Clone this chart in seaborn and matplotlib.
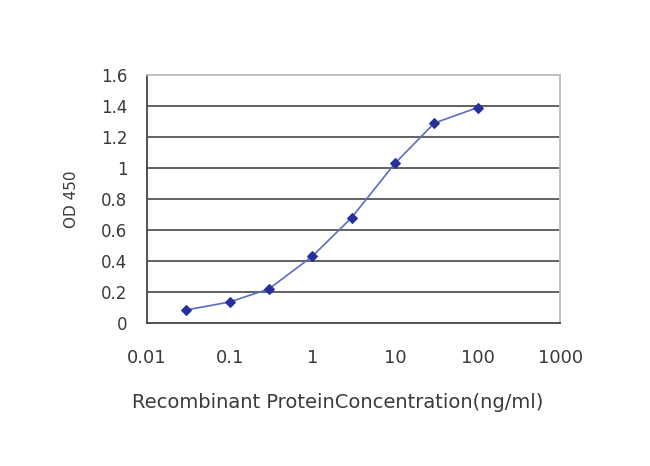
import numpy as np
import pandas as pd
import matplotlib
matplotlib.use('Agg')
import matplotlib.pyplot as plt
import seaborn as sns

# concentration (ng/ml) vs OD 450
concentration = [0.03, 0.1, 0.3, 1, 3, 10, 30, 100]
od450 = [0.084, 0.135, 0.22, 0.43, 0.68, 1.03, 1.29, 1.39]
x_ticks = [0.01, 0.1, 1, 10, 100, 1000]
x_tick_labels = ['0.01', '0.1', '1', '10', '100', '1000']
y_ticks = [0, 0.2, 0.4, 0.6, 0.8, 1.0, 1.2, 1.4, 1.6]
y_tick_labels = ['0', '0.2', '0.4', '0.6', '0.8', '1', '1.2', '1.4', '1.6']

sns.set_style('white')
plt.rcParams['font.family'] = ['DejaVu Sans']

df = pd.DataFrame({'conc': concentration, 'od': od450})

fig = plt.figure(figsize=(6.5, 4.66), dpi=100)
ax = fig.add_axes([0.226, 0.307, 0.636, 0.532])

for yv in y_ticks[1:-1]:
    ax.axhline(yv, color='#555555', lw=1.3, zorder=1)

sns.lineplot(data=df, x='conc', y='od', ax=ax, color='#5c6cc4', lw=1.2,
             marker='D', markersize=5.5, markerfacecolor='#26309a',
             markeredgecolor='#26309a', zorder=3)

ax.set_xscale('log')
ax.set_xlim(0.01, 1000)
ax.set_ylim(0, 1.6)
ax.set_xticks(x_ticks)
ax.set_xticklabels(x_tick_labels)
ax.set_yticks(y_ticks)
ax.set_yticklabels(y_tick_labels)
ax.minorticks_off()

for s in ['left', 'bottom']:
    ax.spines[s].set_color('#444444')
    ax.spines[s].set_linewidth(1.3)
for s in ['top', 'right']:
    ax.spines[s].set_color('#bbbbbb')
    ax.spines[s].set_linewidth(1.3)

ax.tick_params(axis='x', which='major', direction='inout', length=6, width=1,
               color='#555555', pad=16, labelsize=13, labelcolor='#3a3a3a')
ax.tick_params(axis='y', which='major', length=0, pad=14, labelsize=12,
               labelcolor='#3a3a3a')

ax.set_xlabel('Recombinant ProteinConcentration(ng/ml)', fontsize=14,
              color='#3a3a3a')
ax.xaxis.set_label_coords(0.462, -0.283)
ax.set_ylabel('OD 450', fontsize=11, color='#3a3a3a', labelpad=16)

fig.savefig('out.png', dpi=100, facecolor='white')
